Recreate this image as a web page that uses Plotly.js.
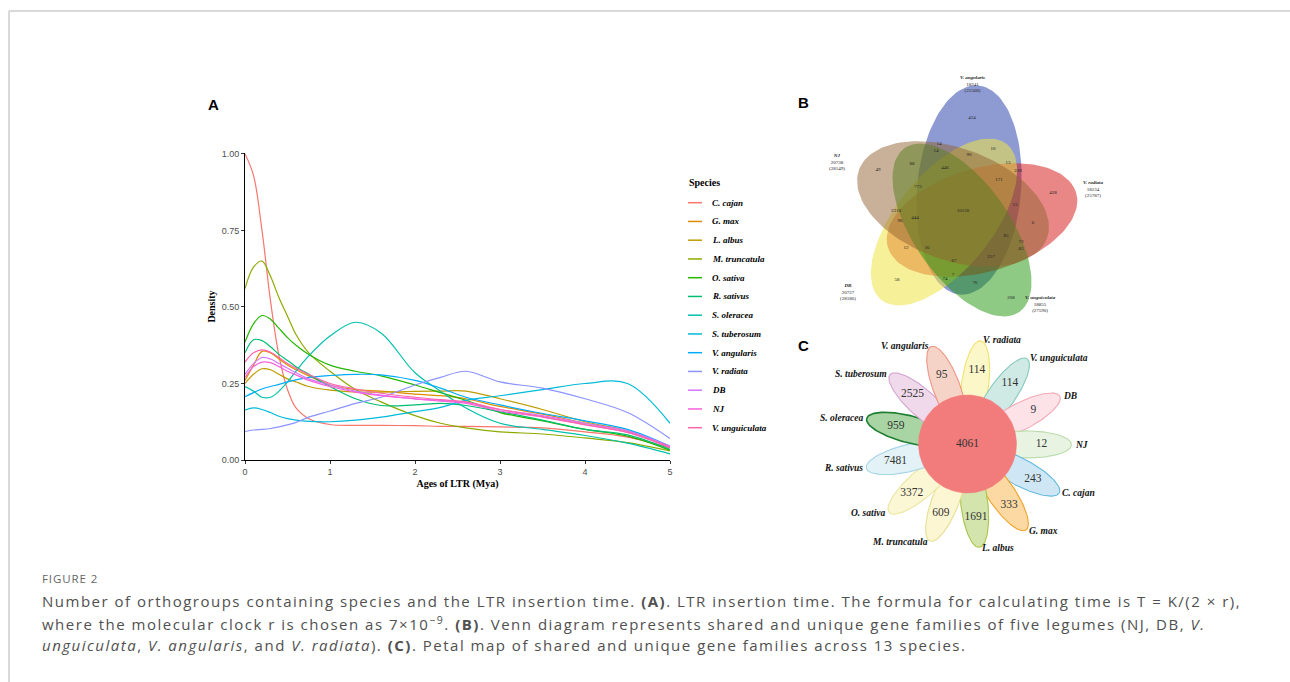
<!DOCTYPE html>
<html><head><meta charset="utf-8">
<script src="https://cdn.plot.ly/plotly-3.0.1.min.js"></script>
<style>html,body{margin:0;padding:0;background:#fff}#chart{width:1290px;height:682px}</style>
</head><body><div id="chart"></div>
<script>
// ================= DATA =================
// Panel A: LTR insertion-time density
const ages = [0,0.1,0.2,0.3,0.4,0.5,0.6,0.75,1,1.3,1.6,2,2.3,2.6,3,3.5,4,4.5,5];
const species = ['C. cajan','G. max','L. albus','M. truncatula','O. sativa','R. sativus','S. oleracea','S. tuberosum','V. angularis','V. radiata','DB','NJ','V. unguiculata'];
const dCajan   = [1.00,0.93,0.75,0.52,0.34,0.23,0.17,0.135,0.116,0.113,0.113,0.112,0.110,0.110,0.108,0.105,0.092,0.075,0.040];
const dGmax    = [0.26,0.31,0.355,0.35,0.33,0.31,0.295,0.275,0.245,0.23,0.225,0.215,0.21,0.20,0.175,0.15,0.12,0.095,0.042];
const dAlbus   = [0.25,0.28,0.298,0.295,0.28,0.265,0.255,0.24,0.228,0.222,0.222,0.224,0.225,0.225,0.20,0.165,0.125,0.095,0.040];
const dTrunc   = [0.56,0.63,0.65,0.60,0.53,0.47,0.41,0.35,0.29,0.23,0.19,0.145,0.12,0.105,0.092,0.085,0.072,0.057,0.030];
const dOsativa = [0.385,0.445,0.472,0.46,0.43,0.40,0.375,0.345,0.31,0.29,0.275,0.245,0.22,0.195,0.155,0.128,0.10,0.078,0.032];
const dRsativus= [0.35,0.393,0.39,0.37,0.345,0.325,0.305,0.28,0.24,0.20,0.178,0.18,0.185,0.178,0.158,0.13,0.10,0.082,0.035];
const dOleracea= [0.24,0.225,0.205,0.205,0.225,0.255,0.29,0.34,0.405,0.45,0.415,0.285,0.225,0.17,0.12,0.10,0.08,0.055,0.020];
const dTuber   = [0.163,0.17,0.165,0.155,0.143,0.135,0.13,0.126,0.125,0.13,0.14,0.158,0.172,0.195,0.21,0.23,0.25,0.25,0.120];
const dAngul   = [0.207,0.22,0.232,0.24,0.247,0.255,0.262,0.27,0.276,0.28,0.278,0.26,0.235,0.205,0.18,0.152,0.128,0.10,0.045];
const dRadiata = [0.093,0.098,0.10,0.103,0.108,0.115,0.123,0.14,0.16,0.185,0.205,0.245,0.27,0.29,0.255,0.235,0.20,0.155,0.070];
const dDB      = [0.28,0.315,0.335,0.33,0.315,0.30,0.285,0.265,0.245,0.225,0.212,0.20,0.195,0.188,0.165,0.145,0.12,0.095,0.045];
const dNJ      = [0.27,0.305,0.32,0.318,0.305,0.29,0.278,0.26,0.24,0.222,0.21,0.20,0.192,0.185,0.16,0.14,0.115,0.09,0.040];
const dUngui   = [0.32,0.35,0.36,0.352,0.335,0.315,0.30,0.28,0.25,0.232,0.218,0.205,0.197,0.19,0.165,0.142,0.116,0.09,0.042];
const densities = [dCajan,dGmax,dAlbus,dTrunc,dOsativa,dRsativus,dOleracea,dTuber,dAngul,dRadiata,dDB,dNJ,dUngui];
const yTicks = [0,0.25,0.5,0.75,1];
const xTicks = [0,1,2,3,4,5];

// Panel B: five-legume Venn
const vennSets   = ['V. angularis','V. radiata','V. unguiculata','DB','NJ'];
const vennTotals = ['18241','18234','18855','20727','20738'];
const vennGenes  = ['(25568)','(25787)','(27590)','(28186)','(28149)'];
const vennCounts = [424,428,208,58,49,10130,14,14,88,446,773,2310,90,444,96,10,13,228,171,13,6,85,72,83,257,67,12,16,7,74,76];

// Panel C: petal map
const petalSpecies = ['V. radiata','V. unguiculata','DB','NJ','C. cajan','G. max','L. albus','M. truncatula','O. sativa','R. sativus','S. oleracea','S. tuberosum','V. angularis'];
const petalCounts  = [114,114,9,12,243,333,1691,609,3372,7481,959,2525,95];
const coreCount    = 4061;

// Caption
const figLabel = 'FIGURE 2';
const capLines = [
 'Number of orthogroups containing species and the LTR insertion time. <b>(A)</b>. LTR insertion time. The formula for calculating time is T = K/(2 × r),',
 'where the molecular clock r is chosen as 7×10<sup>−9</sup>. <b>(B)</b>. Venn diagram represents shared and unique gene families of five legumes (NJ, DB, <i>V.</i>',
 '<i>unguiculata</i>, <i>V. angularis</i>, and <i>V. radiata</i>). <b>(C)</b>. Petal map of shared and unique gene families across 13 species.'
];

// ================= STYLE / LAYOUT =================
const W = 1290, H = 682;
const colors = ['#F8766D','#E18A00','#BE9C00','#8CAB00','#24B700','#00BE70','#00C1AB','#00BBDA','#00ACFC','#8B93FF','#D575FE','#F962DD','#FF65AC'];
const SERIF = 'Liberation Serif, Times New Roman, serif';
const SANS = 'Liberation Sans, Arial, sans-serif';
const CAPF = 'Open Sans, sans-serif';

// Venn ellipse geometry (px): cx, cy, a, b, angle(deg, screen)
const vennGeom = [
  {cx:969, cy:190, a:105, b:52, ang:-85, fill:'rgba(30,55,165,0.5)'},   // V. angularis
  {cx:982, cy:220, a:98,  b:52, ang:-16, fill:'rgba(212,15,15,0.5)'},   // V. radiata
  {cx:962, cy:230, a:100, b:48, ang:55,  fill:'rgba(30,150,10,0.5)'},   // V. unguiculata
  {cx:944, cy:222, a:100, b:48, ang:-51, fill:'rgba(238,228,70,0.55)'}, // DB
  {cx:953, cy:204, a:100, b:56, ang:20,  fill:'rgba(145,100,50,0.5)'}   // NJ
];
const vennDrawOrder = [0,1,3,2,4];
const vennLabelPos = [[972,84],[1093,189],[1040,304],[848,292],[837,162]];
const vennCountPos = [[972,118],[1053,193],[1011,298],[897,280],[878,170],[963,211],[939,144],[936,151],[912,164],[945,168],
  [918,187],[896,211],[969,155],[915,218],[900,221],[993,149],[1008,163],[1018,171],[999,180],[1015,205],
  [1033,223],[1006,236],[1021,242],[1021,249],[991,257],[954,261],[906,248],[927,248],[953,275],[945,279],[975,283]];

// Petal geometry
const petalC = [967.5,444], coreR = 49, petalRc = 60, petalA = 44, petalB = 13.5, petalNumR = 74, petalLabR = 105, petalStart = 82.7;
const petalFill = ['#fcf7c8','#cfe9e5','#fde3e7','#e8f3e2','#cfe7f5','#fcd9a3','#d3e5ad','#fcf6d2','#fbf6d3','#e2f2f7','#a9d4a3','#efd9ea','#f6d3c7'];
const petalLine = ['#f0e36a','#86cabd','#f3a9b6','#bcdcab','#66bae0','#f0a328','#a9c54a','#e6df94','#ebe6a2','#a9d6e6','#1e7f30','#d3a4cf','#ef9585'];

function ellipse(cx,cy,a,b,angDeg,n){
  n = n||120; const t = angDeg*Math.PI/180, xs=[], ys=[];
  for(let i=0;i<=n;i++){const s=2*Math.PI*i/n; const ex=a*Math.cos(s), ey=b*Math.sin(s);
    xs.push(cx+ex*Math.cos(t)-ey*Math.sin(t)); ys.push(cy+ex*Math.sin(t)+ey*Math.cos(t));}
  return {x:xs,y:ys};
}

const traces = [];
// Panel A traces
species.forEach((s,i)=>{
  traces.push({type:'scatter',mode:'lines',name:s,x:ages,y:densities[i],xaxis:'x',yaxis:'y',
    line:{color:colors[i],width:1.2,shape:'spline',smoothing:1},hoverinfo:'skip',showlegend:false});
});
// Panel B traces
vennDrawOrder.forEach(k=>{
  const g=vennGeom[k], e=ellipse(g.cx,g.cy,g.a,g.b,g.ang);
  traces.push({type:'scatter',mode:'lines',name:vennSets[k],x:e.x,y:e.y,xaxis:'x2',yaxis:'y2',fill:'toself',
    fillcolor:g.fill,line:{color:'rgba(0,0,0,0)',width:0},hoverinfo:'skip',showlegend:false});
});
traces.push({type:'scatter',mode:'text',x:vennCountPos.map(p=>p[0]),y:vennCountPos.map(p=>p[1]),
  text:vennCounts.map(String),textfont:{family:SERIF,size:5,color:'#222'},xaxis:'x2',yaxis:'y2',
  cliponaxis:false,hoverinfo:'skip',showlegend:false});
// Panel C traces
const petalAngles = petalSpecies.map((s,k)=>petalStart - k*360/petalSpecies.length);
petalSpecies.forEach((s,k)=>{
  const th = petalAngles[k]*Math.PI/180;
  const cx = petalC[0]+petalRc*Math.cos(th), cy = petalC[1]-petalRc*Math.sin(th);
  const e = ellipse(cx,cy,petalA,petalB,-petalAngles[k]);
  traces.push({type:'scatter',mode:'lines',name:s,x:e.x,y:e.y,xaxis:'x3',yaxis:'y3',fill:'toself',
    fillcolor:petalFill[k],line:{color:petalLine[k],width:k===10?1.6:1.1},hoverinfo:'skip',showlegend:false});
});
const core = ellipse(petalC[0],petalC[1],coreR,coreR,0);
traces.push({type:'scatter',mode:'lines',name:'core',x:core.x,y:core.y,xaxis:'x3',yaxis:'y3',fill:'toself',
  fillcolor:'#f27b7b',line:{color:'#f27b7b',width:0.5},hoverinfo:'skip',showlegend:false});
traces.push({type:'scatter',mode:'text',
  x:petalAngles.map(a=>petalC[0]+petalNumR*Math.cos(a*Math.PI/180)).concat([petalC[0]]),
  y:petalAngles.map(a=>petalC[1]-petalNumR*Math.sin(a*Math.PI/180)).concat([petalC[1]]),
  text:petalCounts.map(String).concat([String(coreCount)]),
  textfont:{family:SERIF,size:11.5,color:'#333'},xaxis:'x3',yaxis:'y3',cliponaxis:false,hoverinfo:'skip',showlegend:false});

// ---- annotations & shapes
const P = (x,y)=>({x:x/W, y:1-y/H, xref:'paper', yref:'paper', yanchor:'middle'});
const ann = [];
const shapes = [];
// border
shapes.push({type:'line',xref:'paper',yref:'paper',x0:9/W,x1:1,y0:1-11/H,y1:1-11/H,line:{color:'#d9d9d9',width:2}});
shapes.push({type:'line',xref:'paper',yref:'paper',x0:9/W,x1:9/W,y0:1-11/H,y1:0,line:{color:'#d9d9d9',width:2}});
// panel letters
[['A',206,105],['B',803,103],['C',803,345]].forEach(([t,x,y])=>ann.push(Object.assign(P(x,y),{text:'<b>'+t+'</b>',showarrow:false,font:{family:SANS,size:15,color:'#000'}})));
// legend (panel A)
ann.push(Object.assign(P(687,182),{text:'<b>Species</b>',xanchor:'left',showarrow:false,font:{family:SERIF,size:10,color:'#000'}}));
species.forEach((s,i)=>{
  const ry = 202.7 + i*18.75;
  shapes.push({type:'line',xref:'paper',yref:'paper',x0:688/W,x1:702/W,y0:1-ry/H,y1:1-ry/H,line:{color:colors[i],width:1.5}});
  ann.push(Object.assign(P(710,ry),{text:'<b><i>'+s+'</i></b>',xanchor:'left',showarrow:false,font:{family:SERIF,size:9,color:'#000'}}));
});
// Venn labels
vennSets.forEach((s,k)=>{
  ann.push({x:vennLabelPos[k][0],y:vennLabelPos[k][1],xref:'x2',yref:'y2',showarrow:false,yanchor:'middle',
    text:'<b><i>'+s+'</i></b><br>'+vennTotals[k]+'<br>'+vennGenes[k],
    font:{family:SERIF,size:5,color:'#222'}});
});
// Petal labels
petalSpecies.forEach((s,k)=>{
  const a = petalAngles[k]*Math.PI/180, c = Math.cos(a);
  ann.push({x:petalC[0]+petalLabR*c,y:petalC[1]-petalLabR*Math.sin(a),xref:'x3',yref:'y3',showarrow:false,yanchor:'middle',
    xanchor: c>0.05?'left':(c<-0.05?'right':'center'),
    text:'<b><i>'+s+'</i></b>',font:{family:SERIF,size:9.5,color:'#111'}});
});
// caption
const sp = (t,ls)=>'<span style="letter-spacing:'+ls+'px">'+t+'</span>';
ann.push(Object.assign(P(40,578),{text:sp(figLabel,0.9),xanchor:'left',showarrow:false,font:{family:CAPF,size:11.5,color:'#666'}}));
capLines.forEach((t,i)=>ann.push(Object.assign(P(40,601+i*22),{text:sp(t,1.5),xanchor:'left',showarrow:false,font:{family:CAPF,size:15,color:'#505050'}})));

const hidden = {visible:false,fixedrange:true,showgrid:false,zeroline:false};
const layout = {
  width:W,height:H,margin:{l:0,r:0,t:0,b:0},paper_bgcolor:'#fff',plot_bgcolor:'rgba(0,0,0,0)',showlegend:false,
  font:{family:SANS},
  xaxis:{domain:[245/W,670/W],range:[0,5],tickvals:xTicks,ticks:'outside',ticklen:3,tickcolor:'#333',
    showline:true,linecolor:'#000',linewidth:1,showgrid:false,zeroline:false,fixedrange:true,anchor:'y',
    tickfont:{family:SANS,size:9,color:'#4d4d4d'},
    title:{text:'<b>Ages of LTR (Mya)</b>',font:{family:SERIF,size:10,color:'#000'},standoff:4}},
  yaxis:{domain:[1-460/H,1-153/H],range:[0,1.003],tickvals:yTicks,tickformat:'.2f',ticks:'outside',ticklen:3,tickcolor:'#333',
    showline:true,linecolor:'#000',linewidth:1,showgrid:false,zeroline:false,fixedrange:true,anchor:'x',
    tickfont:{family:SANS,size:9,color:'#4d4d4d'},
    title:{text:'<b>Density</b>',font:{family:SERIF,size:10,color:'#000'},standoff:4}},
  xaxis2:Object.assign({domain:[800/W,1120/W],range:[800,1120],anchor:'y2'},hidden),
  yaxis2:Object.assign({domain:[1-335/H,1-60/H],range:[335,60],anchor:'x2'},hidden),
  xaxis3:Object.assign({domain:[820/W,1110/W],range:[820,1110],anchor:'y3'},hidden),
  yaxis3:Object.assign({domain:[1-565/H,1-335/H],range:[565,335],anchor:'x3'},hidden),
  annotations:ann, shapes:shapes
};
Plotly.newPlot('chart',traces,layout,{displayModeBar:false,staticPlot:true});
</script></body></html>
